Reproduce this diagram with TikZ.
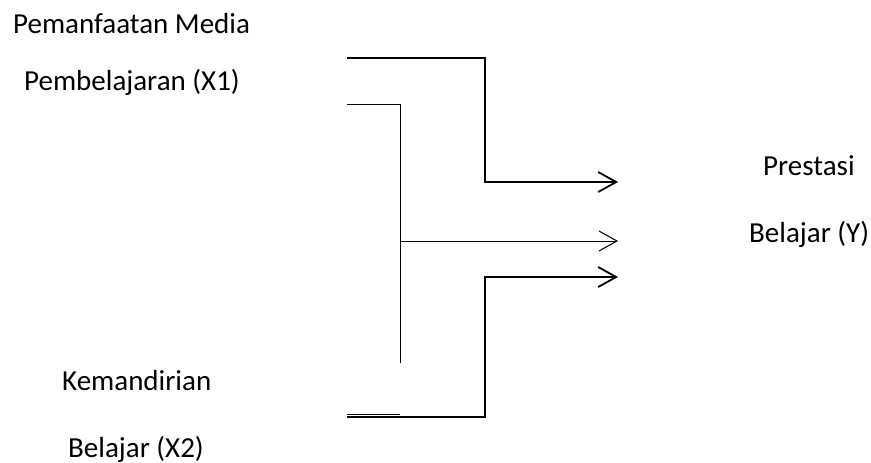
\documentclass[tikz,border=0pt]{standalone}
\usepackage{fontspec}
\setmainfont{Carlito}
\usetikzlibrary{arrows.meta}
\begin{document}
\begin{tikzpicture}[x=1pt,y=-1pt,
  lbl/.style={anchor=base west,inner sep=0pt,font=\fontsize{29}{32}\selectfont},
  thickln/.style={line width=1.8pt,black},
  thinln/.style={line width=1pt,black},
  chev/.style={-{Straight Barb[length=18pt,width=20pt]}}]
\useasboundingbox (0,0) rectangle (871,463);
% labels
\node[lbl] (x1a) at (13,34) {Pemanfaatan Media};
\node[lbl] (x1b) at (24,90) {Pembelajaran (X1)};
\node[lbl] (x2a) at (62,390) {Kemandirian};
\node[lbl] (x2b) at (68,457) {Belajar (X2)};
\node[lbl] (ya) at (763,175) {Prestasi};
\node[lbl] (yb) at (749,242) {Belajar (Y)};
% coordinates
\coordinate (a1) at (347,58);
\coordinate (a2) at (485,58);
\coordinate (a3) at (485,182);
\coordinate (a4) at (618,182);
\coordinate (b1) at (347,104);
\coordinate (b2) at (400,104);
\coordinate (b3) at (400,363);
\coordinate (m1) at (400,241);
\coordinate (m2) at (618,241);
\coordinate (c1) at (347,414);
\coordinate (c2) at (400,414);
\coordinate (d1) at (347,417);
\coordinate (d2) at (485,417);
\coordinate (d3) at (485,277);
\coordinate (d4) at (618,277);
% connectors
\draw[thickln,chev] (a1) -- (a2) -- (a3) -- (a4);
\draw[thinln] (b1) -- (b2) -- (b3);
\draw[thinln,chev] (m1) -- (m2);
\draw[thinln] (c1) -- (c2);
\draw[thickln,chev] (d1) -- (d2) -- (d3) -- (d4);
\end{tikzpicture}
\end{document}
